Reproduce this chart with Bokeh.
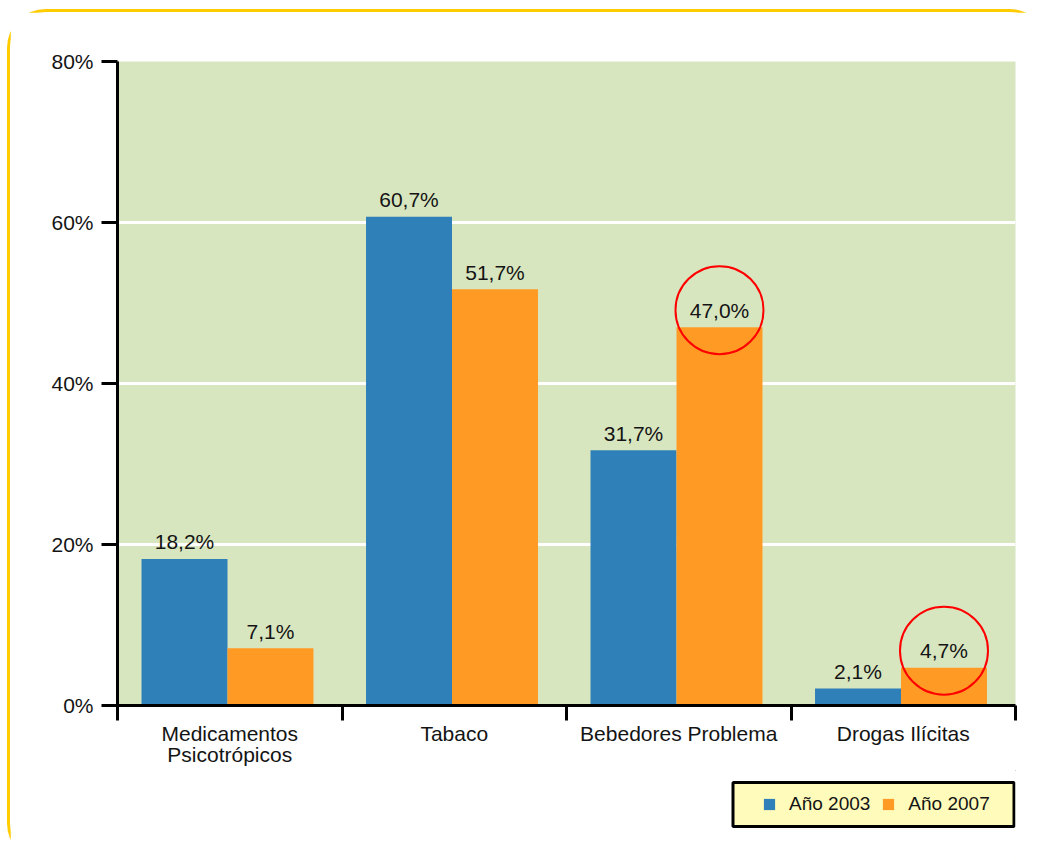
import numpy as np
from bokeh.plotting import figure
from bokeh.layouts import column
from bokeh.models import (Range1d, FixedTicker, PrintfTickFormatter, Legend, LegendItem,
                          ColumnDataSource, BoxAnnotation)
from bokeh.embed import file_html
from bokeh.resources import INLINE
from bokeh.core.properties import value

# ---- data ----
categories = ["Medicamentos\nPsicotrópicos", "Tabaco", "Bebedores Problema", "Drogas Ilícitas"]
series_names = ["Año 2003", "Año 2007"]
values_2003 = [18.2, 60.7, 31.7, 2.1]
values_2007 = [7.1, 51.7, 47.0, 4.7]
highlight_2007 = [False, False, True, True]
y_ticks = [0, 20, 40, 60, 80]

FONT = "Liberation Sans"
BLUE = "#2F7FB8"
ORANGE = "#FF9B25"
TXT = "#141414"

def fmt(v):
    return f"{v:.1f}%".replace(".", ",")

n = len(categories)
centers = np.arange(n) + 0.49
bw = 0.383

src = ColumnDataSource(dict(
    x03=centers - bw / 2, x07=centers + bw / 2,
    v03=values_2003, v07=values_2007,
    l03=[fmt(v) for v in values_2003], l07=[fmt(v) for v in values_2007],
))

W = 1035
p = figure(width=W, height=758, output_backend="svg", toolbar_location=None,
           x_range=Range1d(0, n), y_range=Range1d(0, 80),
           min_border_left=107, min_border_right=30, min_border_top=49, min_border_bottom=65,
           background_fill_color="#D8E6C0", border_fill_color="white", outline_line_color=None)

r03 = p.vbar(x="x03", top="v03", width=bw, source=src, fill_color=BLUE, line_color=None)
r07 = p.vbar(x="x07", top="v07", width=bw, source=src, fill_color=ORANGE, line_color=None)

for xs, ys, ls in (("x03", "v03", "l03"), ("x07", "v07", "l07")):
    p.text(x=xs, y=ys, text=ls, source=src, text_align="center", text_baseline="alphabetic",
           y_offset=-17, text_font=value(FONT), text_font_size="21px", text_color=TXT)

# highlight circles around selected 2007 labels
px_per_unit = 644 / 80.0
hx = [c + bw / 2 for c, h in zip(centers, highlight_2007) if h]
hy = [v + 17 / px_per_unit for v, h in zip(values_2007, highlight_2007) if h]
p.scatter(hx, hy, marker="circle", size=88, fill_alpha=0, line_color="#FF0000", line_width=2)

# axes
xax = p.xaxis[0]
xax.ticker = FixedTicker(ticks=list(np.arange(n) + 0.5), minor_ticks=list(range(n + 1)))
xax.major_label_overrides = {float(t): c for t, c in zip(np.arange(n) + 0.5, categories)}
xax.major_tick_out = 0
xax.major_tick_in = 0
xax.minor_tick_out = 15
xax.minor_tick_in = 0
xax.minor_tick_line_width = 3
xax.minor_tick_line_color = "black"
xax.major_label_standoff = 1
xax.major_label_text_line_height = 0.94

yax = p.yaxis[0]
yax.ticker = FixedTicker(ticks=y_ticks)
yax.formatter = PrintfTickFormatter(format="%d%%")
yax.major_tick_out = 16
yax.major_tick_in = 0
yax.minor_tick_out = 0
yax.minor_tick_in = 0
yax.major_tick_line_width = 3
yax.major_tick_line_color = "black"
yax.major_label_standoff = 8

for ax in (xax, yax):
    ax.axis_line_color = "black"
    ax.axis_line_width = 3
    ax.major_label_text_font = FONT
    ax.major_label_text_font_size = "21px"
    ax.major_label_text_color = TXT

p.xgrid.visible = False
p.ygrid.grid_line_color = "white"
p.ygrid.grid_line_width = 3

# ---- legend strip (its frame is aligned with the chart frame by the column) ----
p2 = figure(width=W, height=89, output_backend="svg", toolbar_location=None,
            x_range=Range1d(-10, -9), y_range=Range1d(-10, -9),
            x_axis_location=None, y_axis_location=None, min_border=0,
            background_fill_color="white", border_fill_color="white", outline_line_color=None)
p2.xgrid.visible = False
p2.ygrid.visible = False
# legend proxies (same data, kept outside this strip's visible ranges)
g03 = p2.vbar(x="x03", top="v03", width=bw, source=src, fill_color=BLUE, line_color=None)
g07 = p2.vbar(x="x07", top="v07", width=bw, source=src, fill_color=ORANGE, line_color=None)

lbox = BoxAnnotation(left=722.5, right=1003.5, top=12, bottom=56,
                     left_units="canvas", right_units="canvas",
                     top_units="canvas", bottom_units="canvas",
                     fill_color="#FFFBBB", fill_alpha=1,
                     line_color="black", line_alpha=1, line_width=3)
p2.add_layout(lbox)

legend = Legend(items=[LegendItem(label=series_names[0], renderers=[g03]),
                       LegendItem(label=series_names[1], renderers=[g07])],
                orientation="horizontal", location=(645, 44), padding=0, margin=0,
                border_line_color=None, background_fill_alpha=0,
                glyph_width=14, glyph_height=14, label_standoff=13, spacing=11,
                label_text_font=FONT, label_text_font_size="19px", label_text_color=TXT)
p2.add_layout(legend, "center")

layout = column(p, p2, spacing=0)
layout.margin = (12, 0, 0, 10)
layout.styles = {"outline": "3px solid #FFCC00", "border-radius": "36px"}

open("out.html", "w").write(file_html(layout, INLINE))
